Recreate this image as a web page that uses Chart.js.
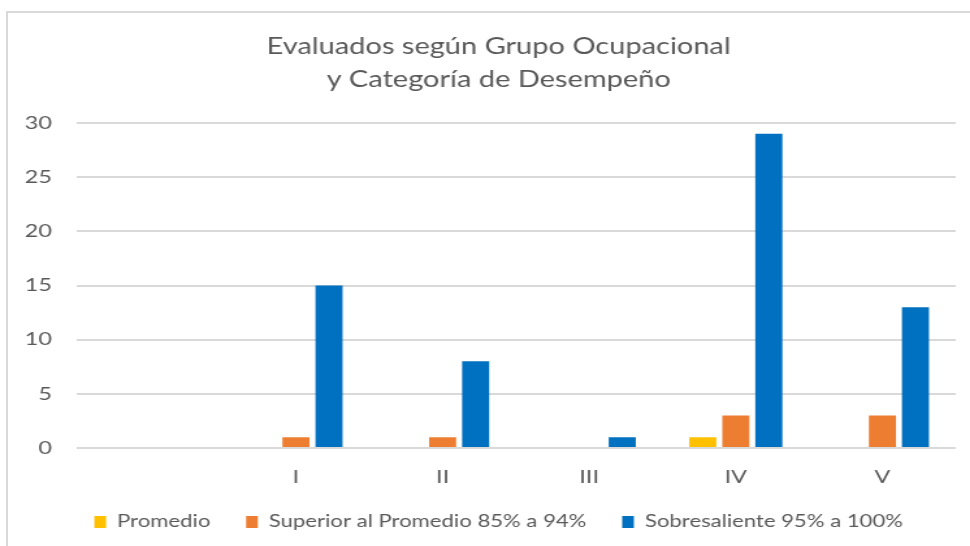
<!doctype html>
<html>

<head>
  <title>Evaluados según Grupo Ocupacional</title>
  <script src="https://cdn.jsdelivr.net/npm/chart.js"></script>
  <style>
    body { margin: 0; background: #fff; overflow: hidden; }
    #frame { position: absolute; left: 6px; top: 11px; width: 1000px; height: 600px; border: 2px solid #d9d9d9; }
    #wrap { position: absolute; left: 0; top: 0; width: 746px; height: 546px; transform: scaleX(1.3003); transform-origin: 0 0; }
  </style>
</head>

<body>
<div id="frame"></div>
<div id="wrap"><canvas id="chart" width="746" height="546"></canvas></div>
<script>
    const groups = ['', 'I', 'II', 'III', 'IV', 'V'];
    const promedio = [0, 0, 0, 0, 1, 0];
    const superior = [0, 1, 1, 0, 3, 3];
    const sobresaliente = [0, 15, 8, 1, 29, 13];
    const yTicks = [0, 5, 10, 15, 20, 25, 30];

    const textColor = '#595959';
    const fontFamily = 'Lato, "Open Sans", sans-serif';

    const ctx = document.getElementById('chart').getContext('2d');
    const chart = new Chart(ctx, {
        type: 'bar',
        data: {
            labels: groups,
            datasets: [{
                label: 'Promedio',
                data: promedio,
                backgroundColor: '#FFC000'
            }, {
                label: 'Superior al Promedio 85% a 94%',
                data: superior,
                backgroundColor: '#ED7D31'
            }, {
                label: 'Sobresaliente 95% a 100%',
                data: sobresaliente,
                backgroundColor: '#0070C0'
            }]
        },
        options: {
            responsive: false,
            animation: false,
            devicePixelRatio: 1,
            categoryPercentage: 0.676,
            barPercentage: 0.82,
            layout: {
                padding: { left: 32, right: 11, top: 0, bottom: 5.5 }
            },
            plugins: {
                title: {
                    display: true,
                    text: ['Evaluados según Grupo Ocupacional', 'y Categoría de Desempeño'],
                    color: textColor,
                    font: { family: fontFamily, size: 22.3, weight: 'normal', lineHeight: 1.48 },
                    padding: { top: 30, bottom: 27 }
                },
                legend: {
                    position: 'bottom',
                    labels: {
                        color: textColor,
                        font: { family: fontFamily, size: 17 },
                        boxWidth: 9,
                        boxHeight: 12,
                        padding: 27.5
                    }
                },
                tooltip: { enabled: false }
            },
            scales: {
                x: {
                    afterFit: scale => { scale.height = 38; },
                    grid: { display: false, drawTicks: false },
                    border: { display: false },
                    ticks: {
                        color: textColor,
                        font: { family: fontFamily, size: 18, lineHeight: 1.1 },
                        padding: 19
                    }
                },
                y: {
                    min: 0,
                    max: 30,
                    afterFit: scale => {
                        scale.width = 26.5;
                        // labels stick out past the narrow axis box, so don't clip them
                        scale._computeLabelArea = () => undefined;
                    },
                    afterBuildTicks: scale => { scale.ticks = yTicks.map(v => ({ value: v })); },
                    grid: { color: '#d9d9d9', lineWidth: 2, drawTicks: false },
                    border: { display: false },
                    ticks: {
                        color: textColor,
                        font: { family: fontFamily, size: 18 },
                        padding: 18.5
                    }
                }
            }
        }
    });
</script>
</body>

</html>
